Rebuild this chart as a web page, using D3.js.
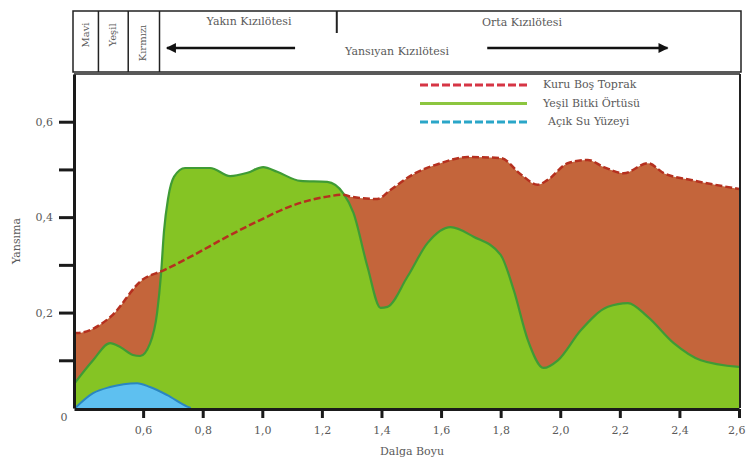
<!DOCTYPE html>
<html>
<head>
<meta charset="utf-8">
<script src="https://cdn.jsdelivr.net/npm/d3@7/dist/d3.min.js"></script>
<style>
    body { margin: 0; background: #fff; }
    text { font-family: "DejaVu Serif", "Liberation Serif", serif; fill: #5a5a5a; }
</style>
</head>
<body>
<div id="chart"></div>
<script>
// dalga boyu (um) ve yansima degerleri
const soilWave = [0.368, 0.378, 0.489, 0.60, 0.667, 0.768, 0.882, 0.993, 1.104, 1.218, 1.272, 1.296, 1.386, 1.43, 1.507, 1.598, 1.689, 1.80, 1.867, 1.924, 1.958, 2.025, 2.092, 2.146, 2.213, 2.294, 2.348, 2.439, 2.6]
const soilValue = [0.16, 0.157, 0.19, 0.27, 0.288, 0.32, 0.359, 0.394, 0.425, 0.443, 0.447, 0.443, 0.438, 0.457, 0.49, 0.513, 0.526, 0.524, 0.49, 0.468, 0.478, 0.513, 0.52, 0.505, 0.492, 0.513, 0.492, 0.478, 0.459]

const vegWave = [0.368, 0.432, 0.489, 0.523, 0.566, 0.59, 0.623, 0.647, 0.66, 0.67, 0.684, 0.704, 0.741, 0.825, 0.892, 0.95, 1.003, 1.05, 1.128, 1.218, 1.272, 1.306, 1.353, 1.397, 1.42, 1.487, 1.555, 1.632, 1.709, 1.80, 1.844, 1.891, 1.944, 1.992, 2.069, 2.16, 2.227, 2.294, 2.381, 2.472, 2.6]
const vegValue = [0.05, 0.10, 0.136, 0.128, 0.111, 0.109, 0.135, 0.2, 0.28, 0.37, 0.44, 0.485, 0.503, 0.503, 0.486, 0.493, 0.505, 0.495, 0.476, 0.474, 0.45, 0.409, 0.296, 0.21, 0.212, 0.275, 0.346, 0.379, 0.359, 0.321, 0.247, 0.143, 0.084, 0.10, 0.163, 0.212, 0.22, 0.191, 0.136, 0.10, 0.086]

const waterWave = [0.372, 0.432, 0.489, 0.58, 0.623, 0.681, 0.748, 0.76]
const waterValue = [0.0, 0.031, 0.044, 0.052, 0.044, 0.027, 0.003, 0.0]

const xTicks = [0.6, 0.8, 1.0, 1.2, 1.4, 1.6, 1.8, 2.0, 2.2, 2.4, 2.6]
const yTicks = [0.1, 0.2, 0.3, 0.4, 0.5, 0.6]
const yLabelTicks = [0.2, 0.4, 0.6]

const legendNames = ["Kuru Boş Toprak", "Yeşil Bitki Örtüsü", "Açık Su Yüzeyi"]
const bandNames = ["Mavi", "Yeşil", "Kırmızı"]
const bandEdges = [0.368, 0.45, 0.55, 0.655]

const soil = soilWave.map((w, i) => ({ w: w, v: soilValue[i] }))
const veg = vegWave.map((w, i) => ({ w: w, v: vegValue[i] }))
const water = waterWave.map((w, i) => ({ w: w, v: waterValue[i] }))

const width = 746
const height = 460
const plotTop = 74
const plotBottom = 408

var svg = d3.select("#chart")
    .append("svg")
    .attr("width", width)
    .attr("height", height)

var x = d3.scaleLinear()
    .domain([0.368, 2.6])
    .range([74, 739])

var y = d3.scaleLinear()
    .domain([0, 0.7])
    .range([plotBottom, plotTop])

var area = d3.area()
    .curve(d3.curveMonotoneX)
    .x(d => x(d.w))
    .y0(y(0))
    .y1(d => y(d.v))

var line = d3.line()
    .curve(d3.curveMonotoneX)
    .x(d => x(d.w))
    .y(d => y(d.v))

// toprak
svg.append("path")
    .datum(soil)
    .attr("fill", "#c4653b")
    .attr("d", area)

// bitki
svg.append("path")
    .datum(veg)
    .attr("fill", "#85c424")
    .attr("d", area)

svg.append("path")
    .datum(veg)
    .attr("fill", "none")
    .attr("stroke", "#3f9b35")
    .attr("stroke-width", 2.2)
    .attr("d", line)

svg.append("path")
    .datum(soil)
    .attr("fill", "none")
    .attr("stroke", "#b5301f")
    .attr("stroke-width", 2.5)
    .attr("stroke-dasharray", "7,3")
    .attr("d", line)

// su
svg.append("path")
    .datum(water)
    .attr("fill", "#5ec0f0")
    .attr("d", area)

svg.append("path")
    .datum(water)
    .attr("fill", "none")
    .attr("stroke", "#2a86c0")
    .attr("stroke-width", 2)
    .attr("d", line)

// cerceve
svg.append("line")
    .attr("x1", 74).attr("x2", 740)
    .attr("y1", plotTop).attr("y2", plotTop)
    .attr("stroke", "#222").attr("stroke-width", 1.5)

svg.append("line")
    .attr("x1", 740).attr("x2", 740)
    .attr("y1", plotTop).attr("y2", plotBottom)
    .attr("stroke", "#222").attr("stroke-width", 2)

// eksenler
var xAxis = svg.append("g")
    .attr("transform", `translate(0, ${plotBottom + 1})`)
    .call(d3.axisBottom(x)
        .tickValues(xTicks)
        .tickSize(9)
        .tickSizeOuter(0)
        .tickPadding(8)
        .tickFormat(d => d.toFixed(1).replace(".", ",")))

var yAxis = svg.append("g")
    .attr("transform", "translate(74, 0)")
    .call(d3.axisLeft(y)
        .tickValues(yTicks)
        .tickSize(15)
        .tickSizeOuter(0)
        .tickPadding(6)
        .tickFormat(d => yLabelTicks.some(t => Math.abs(t - d) < 1e-9) ? d.toFixed(1).replace(".", ",") : ""))

xAxis.select(".domain").attr("stroke", "#1a1a1a").attr("stroke-width", 3)
yAxis.select(".domain").attr("stroke", "#1a1a1a").attr("stroke-width", 3)
svg.selectAll(".tick line").attr("stroke", "#1a1a1a").attr("stroke-width", 3)
svg.selectAll(".tick text")
    .style("font-size", "11px")
    .style("font-family", "DejaVu Serif")
    .attr("fill", "#5a5a5a")

// son etiket kenarda kesilmesin
xAxis.selectAll(".tick text")
    .filter(d => d == 2.6)
    .attr("text-anchor", "end")
    .attr("dx", 6)

svg.append("text")
    .text("0")
    .attr("x", 64)
    .attr("y", y(0) + 10)
    .attr("text-anchor", "middle")
    .attr("dominant-baseline", "middle")
    .style("font-size", "11px")

svg.append("text")
    .text("Dalga Boyu")
    .attr("x", 412)
    .attr("y", 452)
    .attr("text-anchor", "middle")
    .attr("dominant-baseline", "middle")
    .style("font-size", "11px")

svg.append("text")
    .text("Yansıma")
    .attr("transform", "translate(17, 241) rotate(-90)")
    .attr("text-anchor", "middle")
    .attr("dominant-baseline", "middle")
    .style("font-size", "11px")

// ust bant kutusu
var header = svg.append("g")

header.append("rect")
    .attr("x", 73)
    .attr("y", 11)
    .attr("width", 668)
    .attr("height", 61)
    .attr("fill", "none")
    .attr("stroke", "#222")
    .attr("stroke-width", 1.5)

header.selectAll("line.band")
    .data(bandEdges.slice(1))
    .join("line")
    .attr("class", "band")
    .attr("x1", d => x(d)).attr("x2", d => x(d))
    .attr("y1", 11).attr("y2", 72)
    .attr("stroke", "#222")
    .attr("stroke-width", 1.5)

header.selectAll("text.band")
    .data(bandNames)
    .join("text")
    .attr("class", "band")
    .text(d => d)
    .attr("transform", (d, i) => `translate(${(x(bandEdges[i]) + x(bandEdges[i + 1])) / 2}, ${i == 2 ? 43 : 35}) rotate(-90)`)
    .attr("text-anchor", "middle")
    .attr("dominant-baseline", "middle")
    .style("font-size", "10px")

header.append("line")
    .attr("x1", x(1.25)).attr("x2", x(1.25))
    .attr("y1", 11).attr("y2", 33)
    .attr("stroke", "#222")
    .attr("stroke-width", 2)

svg.append("defs")
    .append("marker")
    .attr("id", "arrow")
    .attr("viewBox", "0 0 10 10")
    .attr("refX", 9)
    .attr("refY", 5)
    .attr("markerWidth", 5)
    .attr("markerHeight", 4)
    .attr("orient", "auto")
    .attr("markerUnits", "strokeWidth")
    .append("path")
    .attr("d", "M0,0 L10,5 L0,10 z")
    .attr("fill", "#111")

header.append("line")
    .attr("x1", x(1.11)).attr("x2", x(0.68))
    .attr("y1", 48).attr("y2", 48)
    .attr("stroke", "#111")
    .attr("stroke-width", 2.5)
    .attr("marker-end", "url(#arrow)")

header.append("line")
    .attr("x1", x(1.755)).attr("x2", x(2.36))
    .attr("y1", 48).attr("y2", 48)
    .attr("stroke", "#111")
    .attr("stroke-width", 2.5)
    .attr("marker-end", "url(#arrow)")

header.append("text")
    .text("Yakın Kızılötesi")
    .attr("x", 249)
    .attr("y", 22)
    .attr("text-anchor", "middle")
    .attr("dominant-baseline", "middle")
    .style("font-size", "11px")

header.append("text")
    .text("Orta Kızılötesi")
    .attr("x", 522)
    .attr("y", 23)
    .attr("text-anchor", "middle")
    .attr("dominant-baseline", "middle")
    .style("font-size", "11px")

header.append("text")
    .text("Yansıyan Kızılötesi")
    .attr("x", 397)
    .attr("y", 52)
    .attr("text-anchor", "middle")
    .attr("dominant-baseline", "middle")
    .style("font-size", "11px")

// lejant
var legendColors = ["#d63545", "#8cc63f", "#2aa6c8"]
var legendDash = ["8,3", null, "8,3"]

var legend = svg.append("g")
    .selectAll("g")
    .data(legendNames)
    .join("g")
    .attr("transform", (d, i) => `translate(420, ${85 + i * 18.5})`)

legend.append("line")
    .attr("x1", 0).attr("x2", 107)
    .attr("y1", 0).attr("y2", 0)
    .attr("stroke", (d, i) => legendColors[i])
    .attr("stroke-width", 3)
    .attr("stroke-dasharray", (d, i) => legendDash[i])

legend.append("text")
    .text(d => d)
    .attr("x", (d, i) => i == 2 ? 128 : 123)
    .attr("y", 0)
    .attr("dominant-baseline", "middle")
    .style("font-size", "11px")
</script>
</body>
</html>
